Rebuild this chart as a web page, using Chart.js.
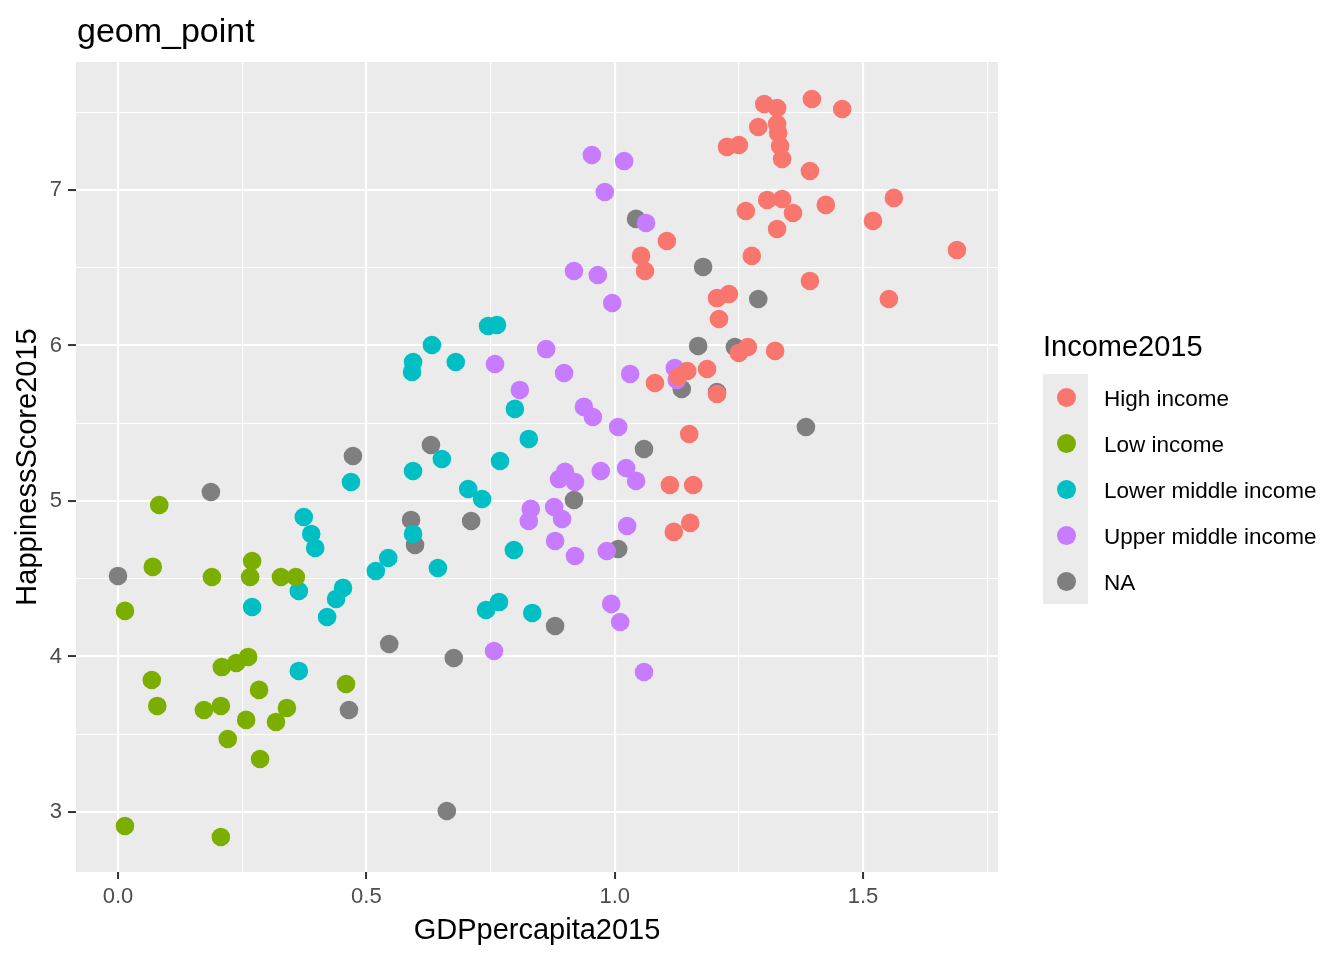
<!DOCTYPE html>
<html>
<head>
<meta charset="utf-8">
<title>geom_point</title>
<script src="https://cdn.jsdelivr.net/npm/chart.js@4.4.1/dist/chart.umd.min.js"></script>
<style>
    html, body {
        margin: 0;
        padding: 0;
        background: #ffffff;
    }
    #wrap {
        position: relative;
        width: 1344px;
        height: 960px;
        font-family: "Liberation Sans", Arial, sans-serif;
    }
    #plot {
        position: absolute;
        left: 0;
        top: 0;
    }
    .legend-title {
        position: absolute;
        left: 1043px;
        top: 332px;
        font-size: 29px;
        line-height: 1;
        color: #000000;
        white-space: nowrap;
    }
    .legend-keys {
        position: absolute;
        left: 1043px;
        top: 374px;
        width: 45px;
        height: 230px;
        background: #EBEBEB;
    }
    .legend-dot {
        position: absolute;
        width: 19px;
        height: 19px;
        border-radius: 50%;
    }
    .legend-label {
        position: absolute;
        left: 1104px;
        height: 46px;
        line-height: 46px;
        font-size: 22.5px;
        color: #000000;
        white-space: nowrap;
    }
</style>
</head>
<body>
<div id="wrap">
    <canvas id="plot" width="1344" height="960"></canvas>
    <div class="legend-title">Income2015</div>
    <div class="legend-keys"></div>
    <div id="legend"></div>
</div>
<script>
// categories
const incomeGroups = ['High income', 'Low income', 'Lower middle income', 'Upper middle income', 'NA'];

// series values (GDP per capita, happiness score)
const highX = [1.301, 1.327, 1.397, 1.458, 1.289, 1.327, 1.329, 1.333, 1.337, 1.226, 1.250, 1.393, 1.307, 1.337,
    1.264, 1.359, 1.425, 1.562, 1.520, 1.327, 1.105, 1.053, 1.061, 1.276, 1.689, 1.393, 1.552, 1.206, 1.230,
    1.210, 1.268, 1.250, 1.323, 1.146, 1.186, 1.081, 1.127, 1.206, 1.150, 1.111, 1.158, 1.152, 1.119];
const highY = [7.553, 7.527, 7.585, 7.521, 7.405, 7.424, 7.367, 7.283, 7.199, 7.277, 7.289, 7.122, 6.936, 6.942,
    6.865, 6.852, 6.904, 6.949, 6.801, 6.749, 6.672, 6.576, 6.479, 6.576, 6.614, 6.415, 6.299, 6.305, 6.331,
    6.170, 5.990, 5.952, 5.965, 5.836, 5.849, 5.759, 5.797, 5.688, 5.431, 5.103, 5.103, 4.859, 4.801];

const lowX = [0.083, 0.070, 0.189, 0.270, 0.266, 0.328, 0.358, 0.014, 0.068, 0.079, 0.209, 0.238, 0.262, 0.284,
    0.173, 0.207, 0.258, 0.340, 0.318, 0.221, 0.286, 0.459, 0.014, 0.207];
const lowY = [4.974, 4.576, 4.511, 4.614, 4.511, 4.511, 4.511, 4.293, 3.849, 3.682, 3.932, 3.958, 3.997, 3.785,
    3.656, 3.682, 3.592, 3.669, 3.579, 3.469, 3.341, 3.823, 2.910, 2.839];

const lowerMidX = [0.745, 0.763, 0.632, 0.594, 0.592, 0.680, 0.799, 0.827, 0.652, 0.594, 0.769, 0.469, 0.705,
    0.733, 0.594, 0.374, 0.389, 0.397, 0.797, 0.544, 0.519, 0.644, 0.364, 0.453, 0.439, 0.270, 0.741, 0.767,
    0.834, 0.421, 0.364];
const lowerMidY = [6.125, 6.132, 6.003, 5.894, 5.830, 5.894, 5.592, 5.399, 5.270, 5.193, 5.257, 5.122, 5.077,
    5.013, 4.788, 4.897, 4.788, 4.698, 4.685, 4.633, 4.550, 4.569, 4.421, 4.441, 4.370, 4.318, 4.299, 4.350,
    4.280, 4.254, 3.907];

const upperMidX = [0.954, 1.019, 0.980, 1.063, 0.918, 0.966, 0.995, 0.862, 0.759, 0.898, 1.031, 1.121, 1.125,
    0.809, 0.938, 0.956, 1.007, 0.900, 0.888, 0.920, 0.972, 1.023, 1.043, 0.831, 0.827, 0.878, 0.894, 1.025,
    0.880, 0.920, 0.984, 0.993, 1.011, 0.757, 1.059];
const upperMidY = [7.225, 7.186, 6.987, 6.788, 6.479, 6.453, 6.273, 5.977, 5.881, 5.823, 5.817, 5.855, 5.778,
    5.714, 5.605, 5.540, 5.476, 5.187, 5.141, 5.122, 5.193, 5.212, 5.129, 4.949, 4.871, 4.961, 4.884, 4.839,
    4.743, 4.646, 4.678, 4.338, 4.222, 4.035, 3.900];

const naX = [0.473, 0.187, 0.000, 0.630, 0.590, 0.598, 0.711, 0.546, 0.676, 0.465, 0.662, 0.880, 1.043, 1.178,
    1.289, 1.168, 1.242, 1.135, 1.206, 1.385, 1.059, 0.918, 1.007];
const naY = [5.289, 5.058, 4.518, 5.360, 4.878, 4.717, 4.871, 4.080, 3.990, 3.656, 3.006, 4.196, 6.814, 6.505,
    6.299, 5.997, 5.990, 5.720, 5.701, 5.476, 5.334, 5.006, 4.691];

// tick labels and grid
const xTickValues = [0, 0.5, 1.0, 1.5];
const xTickLabels = ['0.0', '0.5', '1.0', '1.5'];
const xMinorValues = [0.25, 0.75, 1.25, 1.75];
const yTickValues = [3, 4, 5, 6, 7];
const yTickLabels = ['3', '4', '5', '6', '7'];
const yMinorValues = [3.5, 4.5, 5.5, 6.5, 7.5];

const groupColors = ['#F8766D', '#7CAE00', '#00BFC4', '#C77CFF', '#7F7F7F'];
const seriesX = [highX, lowX, lowerMidX, upperMidX, naX];
const seriesY = [highY, lowY, lowerMidY, upperMidY, naY];

const fontFamily = '"Liberation Sans", Arial, sans-serif';
Chart.defaults.font.family = fontFamily;

const findIndex = (arr, v) => arr.findIndex(m => Math.abs(m - v) < 1e-9);
const isMajor = (arr, v) => findIndex(arr, v) >= 0;

// grey panel behind the grid + title at the panel's left edge
const ggPanel = {
    id: 'ggPanel',
    beforeDraw(chart) {
        const { ctx, chartArea } = chart;
        ctx.save();
        ctx.fillStyle = '#EBEBEB';
        ctx.fillRect(chartArea.left, chartArea.top, chartArea.right - chartArea.left, chartArea.bottom - chartArea.top);
        ctx.restore();
    },
    afterDraw(chart) {
        const { ctx, chartArea } = chart;
        ctx.save();
        ctx.fillStyle = '#000000';
        ctx.font = '34px ' + fontFamily;
        ctx.textAlign = 'left';
        ctx.textBaseline = 'alphabetic';
        ctx.fillText('geom_point', chartArea.left + 1, 41.5);
        ctx.restore();
    }
};

const datasets = incomeGroups.map((name, i) => ({
    label: name,
    data: seriesX[i].map((x, j) => ({ x: x, y: seriesY[i][j] })),
    backgroundColor: groupColors[i],
    borderWidth: 0,
    pointRadius: 9.3,
    pointHoverRadius: 9.3
}));

const ctx = document.getElementById('plot').getContext('2d');
const chart = new Chart(ctx, {
    type: 'scatter',
    data: { datasets: datasets },
    options: {
        responsive: false,
        animation: false,
        events: [],
        layout: {
            padding: { top: 62, right: 346, bottom: 0, left: 0 }
        },
        plugins: {
            legend: { display: false },
            tooltip: { enabled: false }
        },
        scales: {
            x: {
                type: 'linear',
                min: -0.0846,
                max: 1.7717,
                afterBuildTicks: scale => {
                    scale.ticks = xTickValues.concat(xMinorValues).sort((a, b) => a - b).map(v => ({ value: v }));
                },
                afterFit: scale => { scale.height = 88; },
                border: { display: false },
                grid: {
                    color: '#FFFFFF',
                    lineWidth: c => isMajor(xTickValues, c.tick.value) ? 2.1 : 1.1,
                    tickColor: c => isMajor(xTickValues, c.tick.value) ? '#333333' : 'rgba(0,0,0,0)',
                    tickWidth: 2,
                    tickLength: 7
                },
                ticks: {
                    autoSkip: false,
                    maxRotation: 0,
                    padding: 5,
                    color: '#4D4D4D',
                    font: { size: 22 },
                    callback: v => {
                        const i = findIndex(xTickValues, v);
                        return i < 0 ? '' : xTickLabels[i];
                    }
                },
                title: {
                    display: true,
                    text: 'GDPpercapita2015',
                    color: '#000000',
                    font: { size: 29 },
                    padding: { top: 0, bottom: 12 }
                }
            },
            y: {
                type: 'linear',
                min: 2.614,
                max: 7.823,
                afterBuildTicks: scale => {
                    scale.ticks = yTickValues.concat(yMinorValues).sort((a, b) => a - b).map(v => ({ value: v }));
                },
                afterFit: scale => { scale.width = 76; },
                border: { display: false },
                grid: {
                    color: '#FFFFFF',
                    lineWidth: c => isMajor(yTickValues, c.tick.value) ? 2.1 : 1.1,
                    tickColor: c => isMajor(yTickValues, c.tick.value) ? '#333333' : 'rgba(0,0,0,0)',
                    tickWidth: 2,
                    tickLength: 8
                },
                ticks: {
                    autoSkip: false,
                    padding: 6,
                    color: '#4D4D4D',
                    font: { size: 22 },
                    callback: v => {
                        const i = findIndex(yTickValues, v);
                        return i < 0 ? '' : yTickLabels[i];
                    }
                },
                title: {
                    display: true,
                    text: 'HappinessScore2015',
                    color: '#000000',
                    font: { size: 29 },
                    padding: { top: 11, bottom: 0 }
                }
            }
        }
    },
    plugins: [ggPanel]
});

// ggplot-style legend next to the panel, built from the chart's datasets
const legend = document.getElementById('legend');
chart.data.datasets.forEach((ds, i) => {
    const cy = 397 + i * 46;
    const dot = document.createElement('div');
    dot.className = 'legend-dot';
    dot.style.left = (1066 - 9.5) + 'px';
    dot.style.top = (cy - 9.5) + 'px';
    dot.style.background = ds.backgroundColor;
    legend.appendChild(dot);

    const label = document.createElement('div');
    label.className = 'legend-label';
    label.style.top = (cy - 23 + 1.5) + 'px';
    label.textContent = ds.label;
    legend.appendChild(label);
});
</script>
</body>
</html>
